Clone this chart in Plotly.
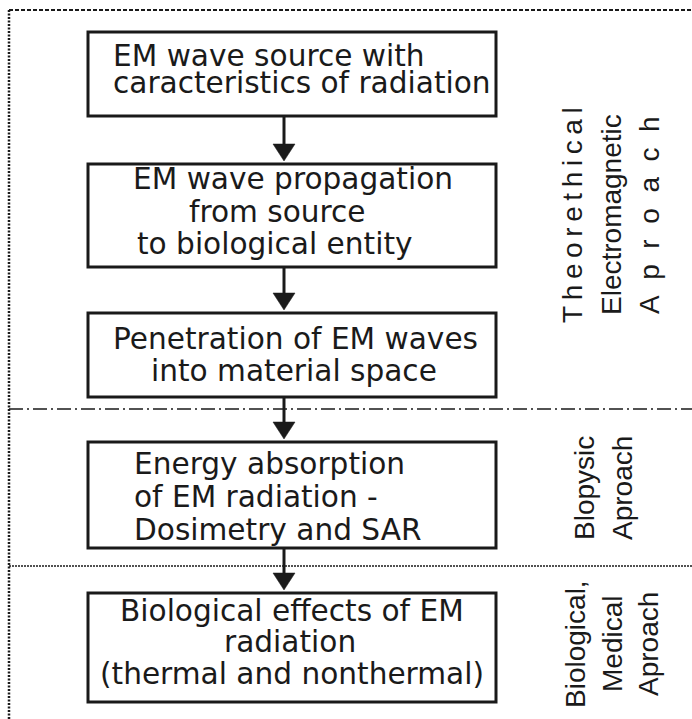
import plotly.graph_objects as go

# ---- content ----
box1_lines = ["EM wave source with", "caracteristics of radiation"]
box2_lines = ["EM wave propagation", "from source", "to biological entity"]
box3_lines = ["Penetration of EM waves", "into material space"]
box4_lines = ["Energy absorption", "of EM radiation -", "Dosimetry and SAR"]
box5_lines = ["Biological effects of EM", "radiation", "(thermal and nonthermal)"]

group1_labels = ["\u2009".join("Theorethical"), "Electromagnetic",
                 "A\u00a0\u00a0p\u00a0\u00a0r\u00a0\u00a0o\u00a0\u00a0a\u00a0\u00a0c\u00a0\u00a0h"]
group2_labels = ["Blopysic", "Aproach"]
group3_labels = ["Biological,", "Medical", "Aproach"]

# ---- layout geometry (pixels, y downward) ----
W, H = 692, 719
BOX_L, BOX_R = 88, 496
boxes = [  # (top, bottom)
    (32, 116), (164, 267), (313, 397), (442, 548), (593, 702)
]
# per-line: (anchor x, baseline y, xanchor)
box_line_pos = [
    [(112, 67, "left"), (112, 94, "left")],
    [(293, 190, "center"), (277, 223, "center"), (275, 255, "center")],
    [(295, 350, "center"), (294, 382, "center")],
    [(133, 475, "left"), (133, 508, "left"), (133, 541, "left")],
    [(292, 622, "center"), (290, 653, "center"), (292, 685, "center")],
]
box_texts = [box1_lines, box2_lines, box3_lines, box4_lines, box5_lines]

ARROW_X = 284
INK = "#1a1a1a"
BOX_FONT = dict(family="DejaVu Sans", size=29.6, color=INK)
SIDE_FONT = dict(family="Liberation Sans, Arial", size=28, color=INK)

fig = go.Figure()
shapes = []
annotations = []

# outer frame (partially visible: top and left)
shapes.append(dict(type="line", x0=9, y0=10, x1=W, y1=10,
                   line=dict(color=INK, width=2, dash="4px,2px")))
shapes.append(dict(type="line", x0=9, y0=10, x1=9, y1=H,
                   line=dict(color=INK, width=2.5, dash="2px,1.5px")))
# separators
shapes.append(dict(type="line", x0=9, y0=409, x1=W, y1=409,
                   line=dict(color=INK, width=1.5, dash="14px,4px,2px,4px")))
shapes.append(dict(type="line", x0=9, y0=566, x1=W, y1=566,
                   line=dict(color=INK, width=1.5, dash="2px,1px")))

# boxes
for top, bot in boxes:
    shapes.append(dict(type="rect", x0=BOX_L, x1=BOX_R, y0=top, y1=bot,
                       line=dict(color=INK, width=3), fillcolor="white"))

# arrows between consecutive boxes
HEAD_W, HEAD_L = 22, 17
for (t0, b0), (t1, b1) in zip(boxes[:-1], boxes[1:]):
    tip = t1 - 3
    shapes.append(dict(type="line", x0=ARROW_X, x1=ARROW_X, y0=b0, y1=tip - HEAD_L + 2,
                       line=dict(color=INK, width=3)))
    shapes.append(dict(type="path",
                       path=f"M {ARROW_X - HEAD_W/2},{tip - HEAD_L} L {ARROW_X + HEAD_W/2},{tip - HEAD_L} L {ARROW_X},{tip} Z",
                       fillcolor=INK, line=dict(color=INK, width=0.5)))

# box texts
for lines, poss in zip(box_texts, box_line_pos):
    for txt, (x, base, xa) in zip(lines, poss):
        annotations.append(dict(x=x, y=base - 11, text=txt, showarrow=False, borderpad=0,
                                xanchor=xa, yanchor="middle", font=BOX_FONT))

# side labels (rotated)
for txt, x in zip(group1_labels, [572, 611, 649]):
    annotations.append(dict(x=x, y=215, text=txt, textangle=-90, showarrow=False, borderpad=0,
                            xanchor="center", yanchor="middle", font=SIDE_FONT))
for txt, x in zip(group2_labels, [584, 622]):
    annotations.append(dict(x=x, y=541, text=txt, textangle=-90, showarrow=False, borderpad=0,
                            xanchor="center", yanchor="bottom", font=SIDE_FONT))
for txt, x in zip(group3_labels, [575, 612, 648]):
    annotations.append(dict(x=x, y=644, text=txt, textangle=-90, showarrow=False, borderpad=0,
                            xanchor="center", yanchor="middle", font=SIDE_FONT))

fig.update_layout(
    width=W, height=H, autosize=False,
    margin=dict(l=0, r=0, t=0, b=0),
    paper_bgcolor="white", plot_bgcolor="white",
    xaxis=dict(range=[0, W], visible=False, fixedrange=True),
    yaxis=dict(range=[H, 0], visible=False, fixedrange=True),
    shapes=shapes, annotations=annotations, showlegend=False,
)
fig.write_html("out.html", config=dict(displayModeBar=False),
               post_script="document.body.style.margin='0';document.body.style.overflow='hidden';")
